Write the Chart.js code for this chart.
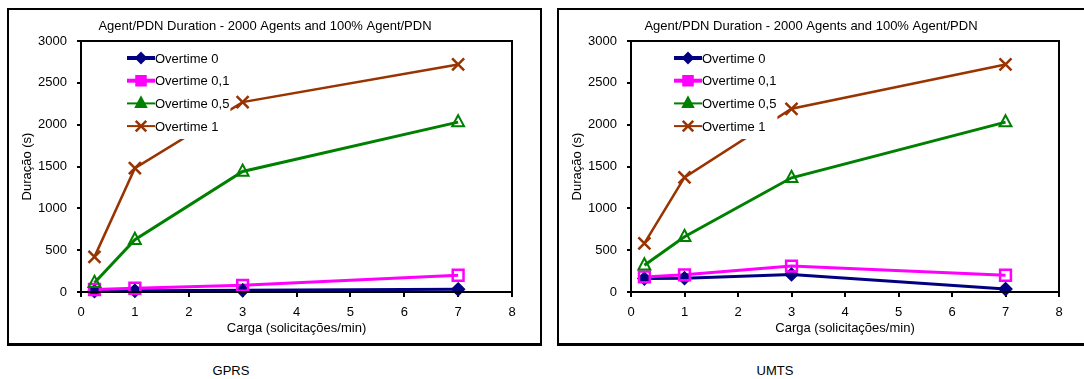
<!DOCTYPE html>
<html>
<head>
<meta charset="utf-8">
<script src="https://cdn.jsdelivr.net/npm/chart.js@4.4.0/dist/chart.umd.min.js"></script>
<style>
  html, body { margin: 0; padding: 0; background: #fff; width: 1084px; height: 379px; overflow: hidden; }
  .box { position: absolute; top: 8px; width: 535px; height: 338px; border: 2px solid #000; border-bottom-width: 3px; box-sizing: border-box; background: #fff; }
  .box canvas { position: absolute; left: 0; top: 0; }
  .cap { position: absolute; top: 363px; font: 13px "Liberation Sans", Arial, sans-serif; color: #000; transform: translateX(-50%); white-space: nowrap; }
</style>
</head>
<body>
<div class="box" style="left:7px"><canvas id="gprs" width="531" height="333"></canvas></div>
<div class="box" style="left:557px"><canvas id="umts" width="531" height="333"></canvas></div>
<div class="cap" style="left:231px">GPRS</div>
<div class="cap" style="left:775px">UMTS</div>

<script>
// Load (requests per minute) at which every series was measured
const cargas = [0.25, 1, 3, 7];
const seriesNames = ['Overtime 0', 'Overtime 0,1', 'Overtime 0,5', 'Overtime 1'];

// GPRS durations (s)
const gprsOvertime0  = [10, 15, 20, 32];
const gprsOvertime01 = [30, 45, 80, 200];
const gprsOvertime05 = [110, 625, 1440, 2030];
const gprsOvertime1  = [420, 1480, 2270, 2720];

// UMTS durations (s)
const umtsOvertime0  = [160, 165, 210, 35];
const umtsOvertime01 = [180, 205, 310, 200];
const umtsOvertime05 = [320, 660, 1365, 2030];
const umtsOvertime1  = [580, 1370, 2190, 2720];

const xTickValues = [0, 1, 2, 3, 4, 5, 6, 7, 8];
const yTickValues = [0, 500, 1000, 1500, 2000, 2500, 3000];

const chartTitle = 'Agent/PDN Duration - 2000 Agents and 100% Agent/PDN';
const yTitle = 'Duração (s)';
const xTitle = 'Carga (solicitações/min)';

const FONT = '"Liberation Sans", Arial, sans-serif';
const FSIZE = 13;

// Series appearance: colour, marker, line width
const styles = [
  { color: '#000080', marker: 'diamond',  fill: true,  radius: 6, width: 3 },
  { color: '#FF00FF', marker: 'square',   fill: false, radius: 6, width: 3 },
  { color: '#008000', marker: 'triangle', fill: false, radius: 7, width: 3 },
  { color: '#993300', marker: 'cross',    fill: false, radius: 8, width: 2.5 }
];

function drawMarker(ctx, kind, x, y, r, color, filled) {
  ctx.save();
  ctx.strokeStyle = color;
  ctx.fillStyle = color;
  ctx.lineWidth = 2;
  ctx.beginPath();
  if (kind === 'diamond') {
    ctx.moveTo(x, y - r); ctx.lineTo(x + r, y); ctx.lineTo(x, y + r); ctx.lineTo(x - r, y); ctx.closePath();
  } else if (kind === 'square') {
    const s = r * 0.9;
    ctx.rect(x - s, y - s, 2 * s, 2 * s);
    ctx.lineWidth = 2.5;
  } else if (kind === 'triangle') {
    ctx.moveTo(x, y - r); ctx.lineTo(x + r * 0.85, y + r * 0.6); ctx.lineTo(x - r * 0.85, y + r * 0.6); ctx.closePath();
  } else {
    const s = r * 0.75;
    ctx.moveTo(x - s, y - s); ctx.lineTo(x + s, y + s);
    ctx.moveTo(x + s, y - s); ctx.lineTo(x - s, y + s);
    ctx.lineWidth = 2.5;
  }
  if (filled && kind !== 'cross') ctx.fill();
  ctx.stroke();
  ctx.restore();
}

// Markers, plot frame, title and the in-plot legend
const decorations = {
  id: 'decorations',
  afterDatasetsDraw(chart) {
    const ctx = chart.ctx;
    const a = chart.chartArea;
    const opt = chart.options.plugins.decorations;

    // markers on every data point
    chart.data.datasets.forEach((ds, i) => {
      const meta = chart.getDatasetMeta(i);
      const st = styles[i];
      meta.data.forEach(pt => drawMarker(ctx, st.marker, pt.x, pt.y, st.radius, st.color, st.fill));
    });

    // frame around the plotting area
    ctx.save();
    ctx.strokeStyle = '#000';
    ctx.lineWidth = 2;
    ctx.strokeRect(a.left, a.top, a.right - a.left, a.bottom - a.top);
    ctx.restore();

    // legend
    ctx.save();
    ctx.font = FSIZE + 'px ' + FONT;
    const lx = a.left + opt.legendX;
    let maxW = 0;
    chart.data.datasets.forEach(ds => { maxW = Math.max(maxW, ctx.measureText(ds.label).width); });
    ctx.fillStyle = '#fff';
    ctx.fillRect(lx - 7, a.top + 4, 28 + maxW + 8, 94);
    chart.data.datasets.forEach((ds, i) => {
      const st = styles[i];
      const y = a.top + 17 + i * 22.7;
      ctx.strokeStyle = st.color;
      ctx.lineWidth = i < 2 ? 4 : 2;
      ctx.beginPath(); ctx.moveTo(lx, y); ctx.lineTo(lx + 28, y); ctx.stroke();
      drawMarker(ctx, st.marker, lx + 14, y, st.radius - 1, st.color, true);
      ctx.fillStyle = '#000';
      ctx.textBaseline = 'middle';
      ctx.textAlign = 'left';
      ctx.fillText(ds.label, lx + 28, y + 1);
    });
    ctx.restore();
  },
  afterDraw(chart) {
    const ctx = chart.ctx;
    const opt = chart.options.plugins.decorations;
    ctx.save();
    ctx.font = FSIZE + 'px ' + FONT;
    ctx.fillStyle = '#000';
    ctx.textAlign = 'center';
    ctx.textBaseline = 'middle';
    ctx.fillText(chartTitle, opt.titleX, 16);
    ctx.restore();
  }
};

function makeChart(id, values, opts) {
  const datasets = values.map((v, i) => ({
    label: seriesNames[i],
    data: cargas.map((c, k) => ({ x: c, y: v[k] })),
    borderColor: styles[i].color,
    backgroundColor: styles[i].color,
    borderWidth: styles[i].width,
    pointRadius: 0,
    tension: 0,
    clip: false,
    order: 3 - i
  }));

  const font = { family: FONT, size: FSIZE };

  return new Chart(document.getElementById(id), {
    type: 'line',
    data: { datasets },
    plugins: [decorations],
    options: {
      responsive: false,
      animation: false,
      events: [],
      layout: { padding: { left: 11, top: 31, right: opts.padRight, bottom: 3 } },
      plugins: {
        legend: { display: false },
        tooltip: { enabled: false },
        title: { display: false },
        decorations: { titleX: opts.titleX, legendX: opts.legendX }
      },
      scales: {
        x: {
          type: 'linear',
          min: 0, max: 8,
          afterBuildTicks: s => { s.ticks = xTickValues.map(v => ({ value: v })); },
          afterFit: s => { s.height = 48; },
          ticks: { color: '#000', font, padding: 8, maxRotation: 0, callback: v => String(v) },
          grid: { drawOnChartArea: false, drawTicks: true, tickLength: 5, color: '#000', lineWidth: 2 },
          border: { display: true, color: '#000', width: 2 },
          title: { display: true, text: xTitle, color: '#000', font, padding: { top: 0, bottom: 4 } }
        },
        y: {
          type: 'linear',
          min: 0, max: 3000,
          afterBuildTicks: s => { s.ticks = yTickValues.map(v => ({ value: v })); },
          afterFit: s => { s.width = 61; },
          ticks: { color: '#000', font, padding: 10, callback: v => String(v) },
          grid: { drawOnChartArea: false, drawTicks: true, tickLength: 4, color: '#000', lineWidth: 2 },
          border: { display: true, color: '#000', width: 2 },
          title: { display: true, text: yTitle, color: '#000', font, padding: 0 }
        }
      }
    }
  });
}

makeChart('gprs', [gprsOvertime0, gprsOvertime01, gprsOvertime05, gprsOvertime1], { padRight: 28, titleX: 256, legendX: 46 });
makeChart('umts', [umtsOvertime0, umtsOvertime01, umtsOvertime05, umtsOvertime1], { padRight: 31, titleX: 252, legendX: 43 });
</script>
</body>
</html>
